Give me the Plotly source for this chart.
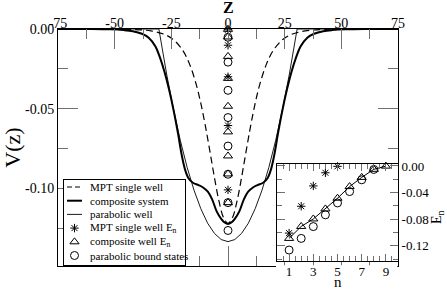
import plotly.graph_objects as go

# ---------------- data ----------------
# MPT single well (dashed)
z_mpt = [-75, -55, -42, -34, -28, -24, -20, -17, -14, -12, -10, -8, -6, -4, -2, 0,
         2, 4, 6, 8, 10, 12, 14, 17, 20, 24, 28, 34, 42, 55, 75]
v_mpt = [0.0, -0.00003, -0.0003, -0.0012, -0.0034, -0.0068, -0.0134, -0.0219, -0.0349,
         -0.0466, -0.0607, -0.0767, -0.0931, -0.1079, -0.1183, -0.1220,
         -0.1183, -0.1079, -0.0931, -0.0767, -0.0607, -0.0466, -0.0349, -0.0219,
         -0.0134, -0.0068, -0.0034, -0.0012, -0.0003, -0.00003, 0.0]

# composite system (thick solid)
z_comp = [-75, -60, -52, -46, -42, -38, -35, -32, -30, -28, -26, -24, -22, -20.5, -19,
          -17.5, -15.5, -13, -11, -9, -7, -5, -3, -1.5, 0,
          1.5, 3, 5, 7, 9, 11, 13, 15.5, 17.5, 19, 20.5, 22, 24, 26, 28, 30, 32, 35,
          38, 42, 46, 52, 60, 75]
v_comp = [0.0, 0.0, -0.0002, -0.0007, -0.0014, -0.0030, -0.0055, -0.0110, -0.0180,
          -0.0270, -0.0380, -0.0510, -0.0660, -0.0785, -0.0880, -0.0935, -0.0965,
          -0.0980, -0.0995, -0.1020, -0.1070, -0.1145, -0.1192, -0.1215, -0.1225,
          -0.1215, -0.1192, -0.1145, -0.1070, -0.1020, -0.0995, -0.0980, -0.0965,
          -0.0935, -0.0880, -0.0785, -0.0660, -0.0510, -0.0380, -0.0270, -0.0180,
          -0.0110, -0.0055, -0.0030, -0.0014, -0.0007, -0.0002, 0.0, 0.0]

# parabolic well (thin solid)
z_par = [-75, -30.5, -27, -24, -21, -18, -15, -12, -9, -6, -3, 0,
         3, 6, 9, 12, 15, 18, 21, 24, 27, 30.5, 75]
v_par = [0.0, 0.0, -0.0289, -0.0508, -0.0702, -0.0870, -0.1012, -0.1128, -0.1219,
         -0.1283, -0.1322, -0.1335, -0.1322, -0.1283, -0.1219, -0.1128, -0.1012,
         -0.0870, -0.0702, -0.0508, -0.0289, 0.0, 0.0]

# bound-state energies
n_mpt = [1, 2, 3, 4, 5]
E_mpt = [-0.1010, -0.0606, -0.0300, -0.0102, -0.0005]
n_comp = [1, 2, 3, 4, 5, 6, 7, 8, 9]
E_comp = [-0.1090, -0.0910, -0.0797, -0.0646, -0.0485, -0.0310, -0.0172, -0.0050, -0.0002]
n_par = [1, 2, 3, 4, 5, 6, 7, 8]
E_par = [-0.1265, -0.1090, -0.0912, -0.0735, -0.0556, -0.0385, -0.0208, -0.0052]
z_level = 0.0  # energies drawn at z = 0 in the main panel

# tick labels
x_ticks = [-75, -50, -25, 0, 25, 50, 75]
x_ticktext = ["-75", "-50", "-25", "0", "25", "50", "75"]
y_ticks = [0.0, -0.05, -0.10]
y_ticktext = ["0.00", "-0.05", "-0.10"]
n_ticks = [1, 3, 5, 7, 9]
n_ticktext = ["1", "3", "5", "7", "9"]
e_ticks = [0.0, -0.04, -0.08, -0.12]
e_ticktext = ["0.00", "-0.04", "-0.08", "-0.12"]

legend_labels = ["MPT single well", "composite system", "parabolic well",
                 "MPT single well E<sub>n</sub>", "composite well E<sub>n</sub>",
                 "parabolic bound states"]

# ---------------- styles ----------------
FONT = "'Liberation Serif', 'DejaVu Serif', 'Noto Serif', serif"
DASH = "7px,4px"
STAR = dict(symbol="asterisk-open", size=7, color="black", line=dict(color="black", width=1))
TRI = dict(symbol="triangle-up-open", size=8, color="black", line=dict(color="black", width=1))
CIRC = dict(symbol="circle-open", size=8, color="black", line=dict(color="black", width=1))
TICKC = "#707070"

fig = go.Figure()

# main panel curves
fig.add_trace(go.Scatter(x=z_par, y=v_par, mode="lines",
                         line=dict(color="black", width=0.9)))
fig.add_trace(go.Scatter(x=z_mpt, y=v_mpt, mode="lines", line_shape="spline",
                         line=dict(color="black", width=1.2, dash=DASH)))
fig.add_trace(go.Scatter(x=z_comp, y=v_comp, mode="lines", line_shape="spline",
                         line=dict(color="black", width=2)))
# main panel levels at z=0
fig.add_trace(go.Scatter(x=[z_level] * len(E_mpt), y=E_mpt, mode="markers", marker=STAR,
                         cliponaxis=False))
fig.add_trace(go.Scatter(x=[z_level] * len(E_comp), y=E_comp, mode="markers", marker=TRI,
                         cliponaxis=False))
fig.add_trace(go.Scatter(x=[z_level] * len(E_par), y=E_par, mode="markers", marker=CIRC,
                         cliponaxis=False))

# inset
fig.add_trace(go.Scatter(x=n_mpt, y=E_mpt, mode="markers", marker=STAR,
                         xaxis="x2", yaxis="y2", cliponaxis=False))
fig.add_trace(go.Scatter(x=n_comp, y=E_comp, mode="lines+markers", marker=TRI,
                         line=dict(color="black", width=1),
                         xaxis="x2", yaxis="y2", cliponaxis=False))
fig.add_trace(go.Scatter(x=n_par, y=E_par, mode="markers", marker=CIRC,
                         xaxis="x2", yaxis="y2", cliponaxis=False))

# legend (own hidden axes, box = axis frame)
rows = [7 + 13.7 * i for i in range(6)]
fig.add_trace(go.Scatter(x=[3, 18], y=[rows[0]] * 2, mode="lines",
                         line=dict(color="black", width=1.2, dash="5px,3px"),
                         xaxis="x3", yaxis="y3"))
fig.add_trace(go.Scatter(x=[3, 18], y=[rows[1]] * 2, mode="lines",
                         line=dict(color="black", width=2), xaxis="x3", yaxis="y3"))
fig.add_trace(go.Scatter(x=[3, 18], y=[rows[2]] * 2, mode="lines",
                         line=dict(color="black", width=0.9), xaxis="x3", yaxis="y3"))
fig.add_trace(go.Scatter(x=[10.5], y=[rows[3]], mode="markers", marker=STAR,
                         xaxis="x3", yaxis="y3"))
fig.add_trace(go.Scatter(x=[10.5], y=[rows[4]], mode="markers", marker=TRI,
                         xaxis="x3", yaxis="y3"))
fig.add_trace(go.Scatter(x=[10.5], y=[rows[5]], mode="markers", marker=CIRC,
                         xaxis="x3", yaxis="y3"))

annotations = [dict(x=24, y=r, xref="x3", yref="y3", text=t, showarrow=False,
                    xanchor="left", yanchor="middle",
                    font=dict(family=FONT, size=11, color="black"))
               for r, t in zip(rows, legend_labels)]

W, H = 447, 290
L, R, T, B = 58, 49, 29, 24
PW, PH = W - L - R, H - T - B


def px_x(p):
    return (p - L) / PW


def px_y(p):
    return (H - B - p) / PH


# axis titles placed as text at their spots
annotations.append(dict(x=0.5, y=px_y(8), xref="paper", yref="paper",
                        text="<b>Z</b>", showarrow=False,
                        xanchor="center", yanchor="middle",
                        font=dict(family=FONT, size=16, color="black")))
annotations.append(dict(x=px_x(437), y=px_y(217), xref="paper", yref="paper",
                        text="E<sub>n</sub>", showarrow=False, textangle=-90,
                        xanchor="center", yanchor="middle",
                        font=dict(family=FONT, size=14, color="black")))
annotations.append(dict(x=px_x(338), y=px_y(282), xref="paper", yref="paper",
                        text="n", showarrow=False,
                        xanchor="center", yanchor="middle",
                        font=dict(family=FONT, size=15, color="black")))

fig.update_traces(showlegend=False, hoverinfo="skip")

fig.update_layout(
    width=W, height=H,
    margin=dict(l=L, r=R, t=T, b=B, autoexpand=False),
    paper_bgcolor="white", plot_bgcolor="white",
    showlegend=False,
    font=dict(family=FONT, color="black", size=14),
    annotations=annotations,
    xaxis=dict(domain=[0, 1], anchor="y", range=[-75, 75], side="top", automargin=False,
               showline=True, linecolor="black", linewidth=1, mirror="ticks",
               ticks="inside", ticklen=20, tickcolor=TICKC, tickwidth=1,
               tickmode="array", tickvals=x_ticks, ticktext=x_ticktext,
               minor=dict(tickvals=[-62.5, -37.5, -12.5, 12.5, 37.5, 62.5],
                          ticks="inside", ticklen=10, tickcolor=TICKC, tickwidth=1),
               showgrid=False, zeroline=False, ticklabelstandoff=-6,
               tickfont=dict(family=FONT, size=14)),
    yaxis=dict(domain=[0, 1], anchor="x", range=[-0.1488, 0.0], automargin=False,
               showline=True, linecolor="black", linewidth=1, mirror="ticks",
               ticks="inside", ticklen=20, tickcolor=TICKC, tickwidth=1,
               tickmode="array", tickvals=y_ticks, ticktext=y_ticktext,
               minor=dict(tickvals=[-0.025, -0.075, -0.125],
                          ticks="inside", ticklen=10, tickcolor=TICKC, tickwidth=1),
               showgrid=False, zeroline=False,
               tickfont=dict(family=FONT, size=14),
               title=dict(text="V(z)", font=dict(family=FONT, size=22), standoff=4)),
    xaxis2=dict(domain=[px_x(277), 1.0], anchor="y2", range=[0, 10], automargin=False,
                showline=True, linecolor="black", linewidth=1, mirror="ticks",
                ticks="inside", ticklen=7, tickcolor=TICKC, tickwidth=1,
                tickmode="array", tickvals=n_ticks, ticktext=n_ticktext,
                minor=dict(tickvals=[0.5, 1.5, 2, 2.5, 3.5, 4, 4.5, 5.5, 6, 6.5, 7.5, 8, 8.5, 9.5],
                           ticks="inside", ticklen=5, tickcolor=TICKC, tickwidth=1),
                showgrid=False, zeroline=False, ticklabelstandoff=-2,
                tickfont=dict(family=FONT, size=13)),
    yaxis2=dict(domain=[px_y(261), px_y(164)], anchor="x2", side="right",
                range=[-0.143, 0.003], automargin=False,
                showline=True, linecolor="black", linewidth=1, mirror="ticks",
                ticks="inside", ticklen=8, tickcolor=TICKC, tickwidth=1,
                tickmode="array", tickvals=e_ticks, ticktext=e_ticktext,
                minor=dict(tickvals=[-0.02, -0.06, -0.10, -0.14],
                           ticks="inside", ticklen=5, tickcolor=TICKC, tickwidth=1),
                showgrid=False, zeroline=False,
                tickfont=dict(family=FONT, size=13)),
    xaxis3=dict(domain=[px_x(64), px_x(185)], anchor="y3", range=[0, 121], automargin=False,
                showline=True, linecolor="black", linewidth=1, mirror=True,
                ticks="", showticklabels=False, showgrid=False, zeroline=False),
    yaxis3=dict(domain=[px_y(265), px_y(180)], anchor="x3", range=[85, 0], automargin=False,
                showline=True, linecolor="black", linewidth=1, mirror=True,
                ticks="", showticklabels=False, showgrid=False, zeroline=False),
    shapes=[dict(type="rect", xref="paper", yref="paper",
                 x0=px_x(276), x1=0.998, y0=px_y(267.3), y1=px_y(265.2),
                 fillcolor="white", line=dict(width=0), layer="above")],
)

fig.write_html("out.html", config={"displayModeBar": False},
               post_script="document.body.style.margin='0';")
